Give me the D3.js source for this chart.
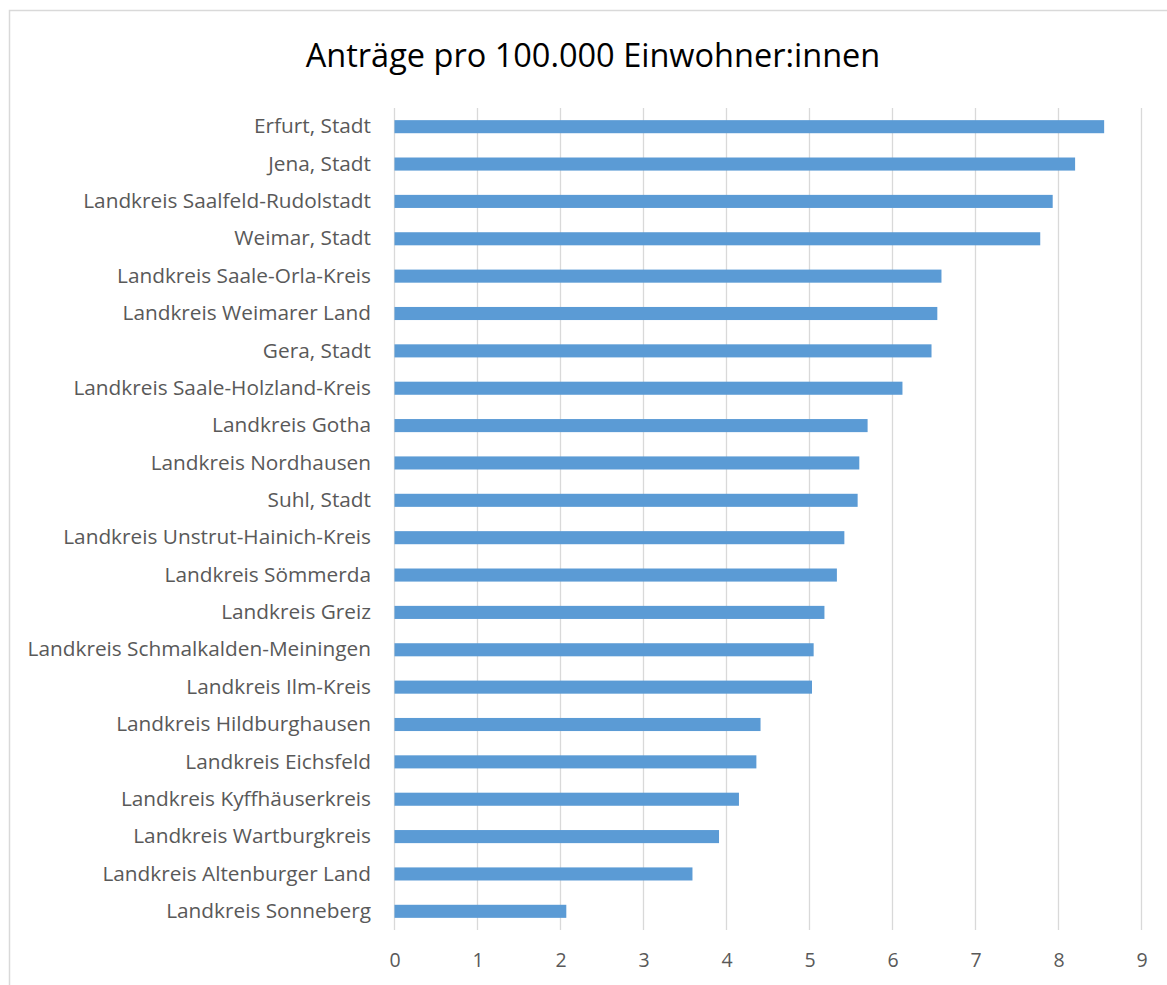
<!DOCTYPE html>
<html>
<head>
<meta charset="utf-8">
<script src="https://cdn.jsdelivr.net/npm/d3@7"></script>
<style>
  html, body { margin: 0; background: #fff; overflow: hidden; }
  svg { display: block; }
  text { font-family: "Open Sans", "Noto Sans", sans-serif; }
</style>
</head>
<body>
<script>
var districts = [
  "Erfurt, Stadt", "Jena, Stadt", "Landkreis Saalfeld-Rudolstadt", "Weimar, Stadt",
  "Landkreis Saale-Orla-Kreis", "Landkreis Weimarer Land", "Gera, Stadt",
  "Landkreis Saale-Holzland-Kreis", "Landkreis Gotha", "Landkreis Nordhausen",
  "Suhl, Stadt", "Landkreis Unstrut-Hainich-Kreis", "Landkreis Sömmerda",
  "Landkreis Greiz", "Landkreis Schmalkalden-Meiningen", "Landkreis Ilm-Kreis",
  "Landkreis Hildburghausen", "Landkreis Eichsfeld", "Landkreis Kyffhäuserkreis",
  "Landkreis Wartburgkreis", "Landkreis Altenburger Land", "Landkreis Sonneberg"
];
var values = [
  8.55, 8.20, 7.93, 7.78, 6.59, 6.54, 6.47, 6.12, 5.70, 5.60, 5.58,
  5.42, 5.33, 5.18, 5.05, 5.03, 4.41, 4.36, 4.15, 3.91, 3.59, 2.07
];
var xTicks = [0, 1, 2, 3, 4, 5, 6, 7, 8, 9];
var title = "Anträge pro 100.000 Einwohner:innen";

var W = 1167, H = 985;
var margin = { top: 108, left: 394.5, bottom: 930 };

var svg = d3.select(document.body).append("svg")
  .attr("width", W)
  .attr("height", H);

// chart frame: only its left and top edges are in the picture
svg.append("path")
  .attr("d", "M9.5," + H + " V10.5 H" + W)
  .attr("fill", "none")
  .attr("stroke", "#d9d9d9")
  .attr("stroke-width", 1.5);

var x = d3.scaleLinear()
  .domain([0, 9])
  .range([margin.left, margin.left + 9 * 83]);

var y = d3.scaleBand()
  .domain(districts)
  .range([margin.top, margin.bottom])
  .paddingInner(0.65)
  .paddingOuter(0.325);

svg.append("text")
  .attr("x", 593)
  .attr("y", 67)
  .attr("text-anchor", "middle")
  .attr("fill", "#000")
  .style("font-size", "32.5px")
  .text(title);

// vertical gridlines
svg.append("g")
  .selectAll("line")
  .data(xTicks)
  .join("line")
  .attr("x1", function(d) { return x(d); })
  .attr("x2", function(d) { return x(d); })
  .attr("y1", margin.top)
  .attr("y2", margin.bottom)
  .attr("stroke", "#d9d9d9")
  .attr("stroke-width", 1.3);

svg.append("g")
  .selectAll("rect")
  .data(values)
  .join("rect")
  .attr("x", x(0))
  .attr("y", function(d, i) { return y(districts[i]); })
  .attr("width", function(d) { return x(d) - x(0); })
  .attr("height", y.bandwidth())
  .attr("fill", "#5b9bd5");

// x axis labels
var xAxis = svg.append("g")
  .attr("transform", "translate(0," + margin.bottom + ")")
  .call(d3.axisBottom(x).tickValues(xTicks).tickSize(0).tickPadding(23));
xAxis.select(".domain").remove();
xAxis.selectAll("text")
  .attr("fill", "#595959")
  .style("font-size", "19.5px");

// category labels
var yAxis = svg.append("g")
  .attr("transform", "translate(371,0)")
  .call(d3.axisLeft(y).tickSize(0).tickPadding(0));
yAxis.select(".domain").remove();
yAxis.selectAll("text")
  .attr("fill", "#595959")
  .style("font-size", "20.8px");
</script>
</body>
</html>
